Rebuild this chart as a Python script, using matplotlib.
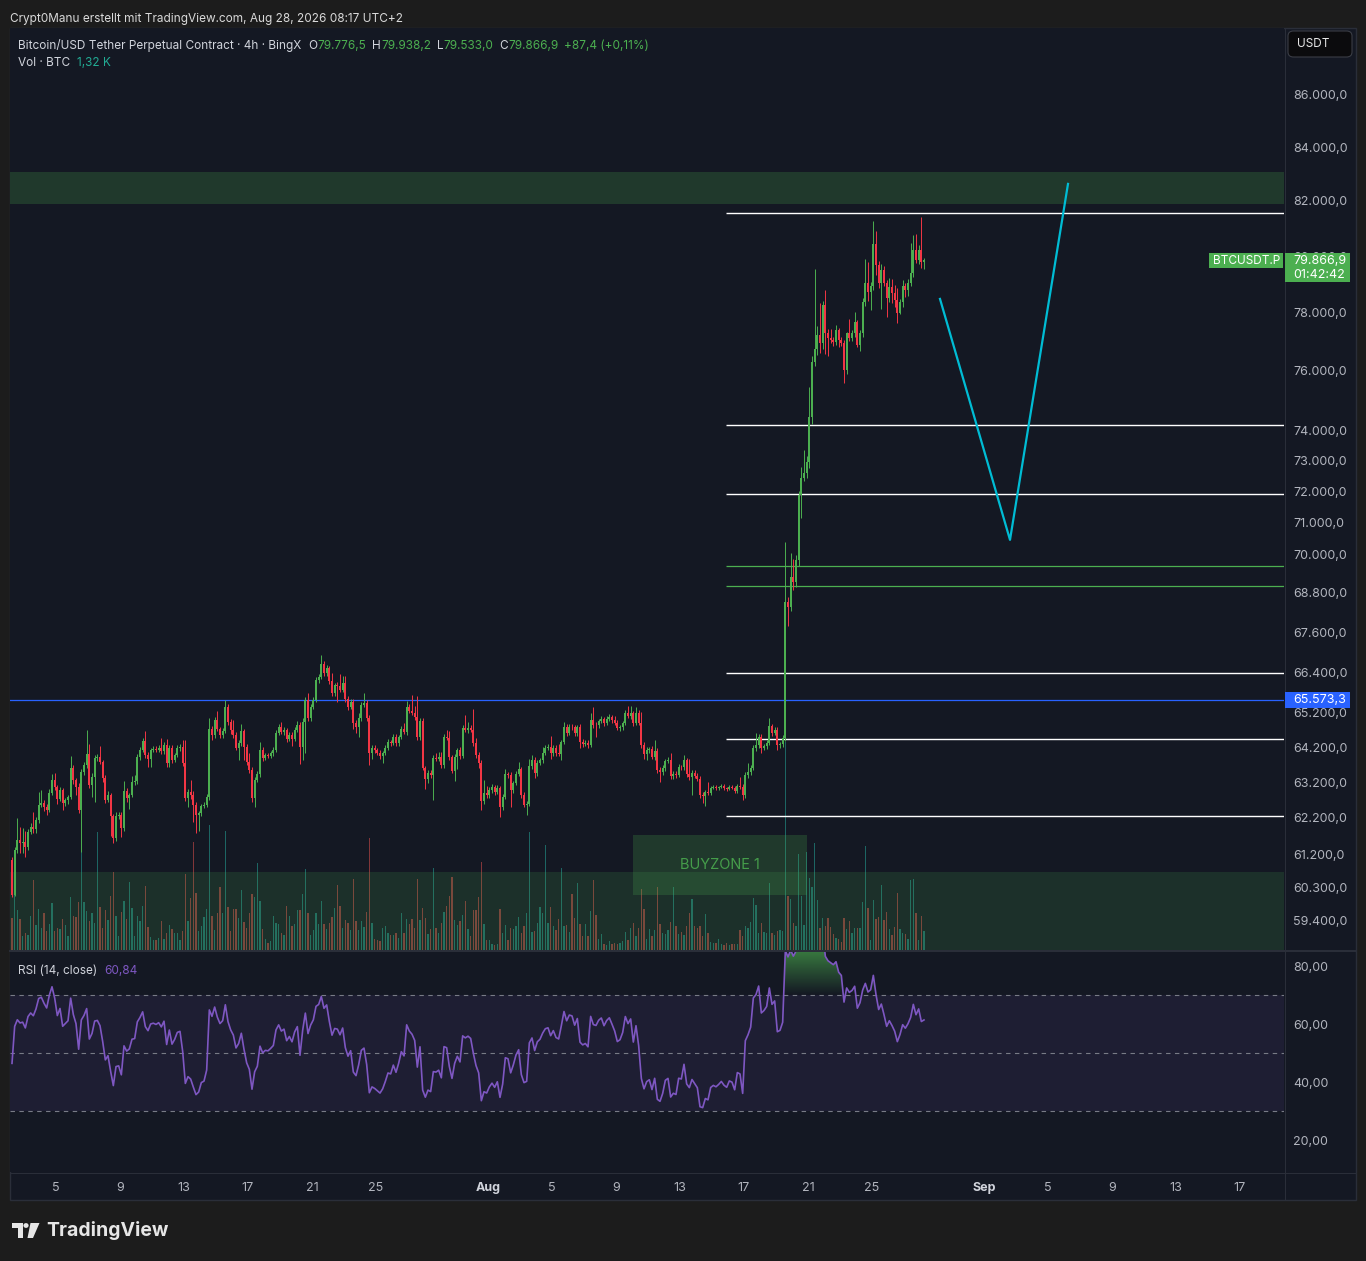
import matplotlib
matplotlib.use("Agg")
import matplotlib.pyplot as plt
from matplotlib.patches import Rectangle, FancyBboxPatch, Polygon, Circle
from matplotlib.lines import Line2D
from matplotlib.path import Path
from matplotlib.colors import LinearSegmentedColormap
from matplotlib.ticker import FixedLocator, FuncFormatter, NullLocator
from datetime import datetime
import numpy as np
import pandas as pd

plt.rcParams['font.family'] = ['Inter', 'DejaVu Sans']

# ---------------- data (BTCUSDT.P, 4h candles from Jul 2 06:00) ----------------
first_open = 61040
closes = [
    60090, 61310, 61590, 61505, 61535, 61395, 61810, 61950, 61890, 62140,
    62560, 62615, 62505, 62420, 62895, 63265, 63065, 62730, 62980, 62615,
    62700, 62785, 63605, 63265, 63065, 62420, 63490, 63690, 64005, 63125,
    63350, 63890, 63920, 63775, 63320, 62700, 62840, 62255, 61645, 62255,
    62280, 61920, 62955, 62755, 62840, 63210, 63235, 63920, 64120, 64380,
    63975, 63860, 64120, 64150, 64120, 64180, 64090, 64265, 63750, 64180,
    63835, 63975, 64180, 64210, 63750, 62755, 62925, 62840, 62560, 62280,
    62335, 62530, 62560, 62785, 64725, 64555, 64990, 64725, 64555, 64670,
    65370, 64930, 64700, 64555, 64180, 64325, 64670, 64210, 63775, 63550,
    62755, 63265, 63435, 64120, 63890, 63975, 63960, 64035, 64120, 64610,
    64785, 64640, 64700, 64440, 64555, 64440, 64700, 64845, 64210, 64930,
    65575, 65045, 65370, 65575, 66165, 66255, 66640, 66370, 66520, 66135,
    65780, 66015, 66000, 65865, 66075, 65600, 65370, 65515, 64900, 64785,
    65045, 65425, 65485, 65045, 64035, 64180, 64120, 64035, 63950, 64035,
    64180, 64350, 64325, 64495, 64325, 64495, 64725, 64640, 65370, 65250,
    65190, 65075, 64495, 64960, 63605, 63295, 63465, 63405, 63890, 63875,
    63920, 63690, 64495, 64465, 63920, 63520, 63920, 64120, 63950, 64755,
    64700, 64755, 64700, 64325, 63975, 63750, 62675, 62895, 62840, 62980,
    63065, 62925, 63040, 62505, 62785, 63435, 63405, 62980, 63180, 63435,
    63575, 62840, 62560, 62590, 63665, 63835, 63465, 63750, 63835, 64035,
    64180, 64210, 64035, 64180, 64035, 64005, 64350, 64785, 64610, 64785,
    64770, 64610, 64785, 64350, 64295, 64325, 64265, 64990, 64845, 64830,
    64960, 65015, 64900, 65015, 65075, 64990, 64900, 64755, 64785, 64900,
    65190, 65105, 65190, 64900, 65190, 64900, 64265, 64005, 64120, 64150,
    63920, 64090, 63550, 63490, 63605, 63805, 63835, 63380, 63435, 63405,
    63635, 63620, 63835, 63435, 63350, 63465, 63380, 63295, 62840, 62815,
    62925, 62895, 63040, 63065, 63040, 63065, 63095, 63040, 63010, 63065,
    63050, 62955, 63095, 63080, 62840, 63405, 63490, 63605, 64180, 64265,
    64495, 64180, 64235, 64325, 64815, 64610, 64700, 64265, 64295, 64465,
    68515, 68360, 69290, 69135, 69815, 71880, 72430, 72595, 72950, 74440,
    76295, 76740, 77220, 76945, 78265, 77290, 77120, 77050, 76980, 77395,
    77050, 76945, 76020, 77290, 77120, 77290, 77675, 76875, 77290, 78370,
    79045, 78725, 78935, 80435, 79685, 79045, 79505, 79045, 78515, 78900,
    78690, 78445, 77985, 78370, 78935, 78795, 79045, 79400, 80220, 79860,
    80220, 79779.5, 79866.9,
]
# wick length above / below the candle body (USD)
wick_hi = [
    80, 90, 600, 370, 370, 300, 90, 110, 420, 80,
    370, 370, 90, 80, 120, 170, 200, 60, 90, 70,
    70, 60, 340, 90, 60, 110, 90, 80, 690, 290,
    120, 80, 90, 310, 60, 80, 100, 70, 60, 120,
    90, 70, 280, 90, 60, 170, 170, 90, 100, 90,
    290, 90, 70, 80, 90, 80, 290, 100, 170, 90,
    80, 60, 90, 70, 200, 660, 90, 340, 100, 80,
    60, 70, 90, 80, 320, 90, 90, 260, 70, 80,
    200, 100, 90, 290, 80, 70, 200, 60, 80, 260,
    80, 90, 90, 230, 100, 60, 70, 60, 80, 90,
    80, 145, 70, 60, 80, 90, 70, 100, 90, 110,
    90, 205, 80, 100, 100, 100, 270, 90, 90, 60,
    240, 70, 90, 355, 210, 210, 80, 90, 100, 80,
    145, 90, 290, 100, 80, 70, 90, 60, 80, 70,
    90, 80, 70, 80, 90, 60, 80, 175, 175, 90,
    465, 200, 610, 90, 80, 70, 90, 80, 90, 145,
    145, 145, 80, 200, 200, 70, 90, 60, 80, 90,
    375, 180, 90, 610, 145, 90, 80, 365, 200, 90,
    80, 70, 90, 60, 80, 140, 70, 90, 60, 80,
    200, 60, 90, 80, 200, 145, 80, 90, 70, 170,
    90, 80, 310, 70, 90, 260, 60, 145, 90, 90,
    90, 80, 60, 90, 80, 70, 90, 200, 375, 80,
    70, 80, 60, 80, 90, 70, 115, 80, 60, 70,
    90, 200, 200, 70, 175, 80, 315, 80, 90, 70,
    90, 315, 80, 90, 80, 70, 90, 200, 90, 80,
    80, 60, 145, 70, 425, 80, 90, 90, 70, 80,
    70, 280, 60, 50, 60, 40, 60, 50, 40, 60,
    50, 40, 60, 255, 60, 90, 255, 80, 70, 345,
    90, 80, 70, 90, 235, 60, 80, 90, 70, 80,
    1865, 150, 747, 565, 170, 120, 360, 750, 200, 1000,
    200, 2800, 300, 1100, 150, 525, 150, 310, 120, 175,
    70, 120, 100, 40, 490, 100, 350, 60, 120, 150,
    850, 750, 150, 830, 470, 150, 200, 150, 120, 320,
    290, 280, 430, 100, 215, 120, 150, 1070, 540, 580,
    180, 1190, 71.3,
]
wick_lo = [
    60, 40, 70, 280, 280, 280, 90, 60, 100, 120,
    80, 60, 110, 150, 70, 60, 90, 130, 70, 200,
    90, 100, 60, 100, 230, 80, 1160, 70, 80, 90,
    340, 700, 80, 60, 110, 90, 60, 550, 140, 80,
    100, 250, 80, 120, 310, 60, 100, 70, 80, 60,
    70, 230, 230, 60, 70, 60, 80, 90, 120, 115,
    90, 70, 60, 80, 90, 80, 250, 100, 475, 500,
    450, 90, 60, 70, 90, 145, 80, 70, 100, 90,
    70, 90, 110, 90, 60, 345, 80, 370, 90, 100,
    120, 260, 70, 80, 90, 60, 70, 60, 80, 60,
    60, 70, 80, 90, 60, 200, 70, 60, 490, 370,
    900, 80, 90, 70, 60, 90, 70, 80, 90, 80,
    80, 90, 500, 70, 60, 80, 90, 70, 175, 175,
    290, 80, 70, 90, 350, 175, 80, 60, 90, 200,
    70, 60, 90, 70, 80, 90, 60, 70, 80, 60,
    70, 80, 90, 80, 60, 285, 115, 70, 715, 80,
    70, 90, 80, 60, 90, 60, 285, 340, 80, 70,
    60, 80, 70, 80, 90, 145, 250, 90, 70, 80,
    70, 90, 60, 280, 80, 70, 90, 470, 80, 70,
    60, 90, 70, 280, 60, 80, 145, 90, 60, 80,
    70, 60, 170, 80, 90, 60, 170, 60, 90, 70,
    60, 90, 80, 170, 80, 70, 90, 60, 80, 345,
    80, 60, 90, 70, 60, 80, 70, 60, 80, 90,
    60, 70, 80, 90, 60, 70, 80, 145, 175, 80,
    70, 80, 90, 285, 70, 80, 60, 80, 90, 70,
    60, 60, 70, 90, 80, 510, 60, 70, 80, 200,
    280, 60, 50, 40, 60, 50, 40, 60, 50, 40,
    40, 60, 50, 60, 145, 80, 70, 90, 60, 80,
    80, 145, 70, 80, 60, 90, 70, 145, 80, 90,
    90, 577, 120, 250, 150, 200, 735, 100, 150, 200,
    250, 150, 200, 340, 200, 730, 620, 100, 150, 120,
    240, 100, 440, 150, 120, 100, 120, 70, 210, 150,
    150, 320, 630, 150, 360, 180, 920, 120, 670, 150,
    350, 240, 350, 40, 170, 245, 210, 100, 150, 120,
    150, 200, 246.5,
]
volume_btc = [
    2240, 5810, 2800, 2170, 980, 1190, 1050, 2380, 4900, 1750,
    2870, 1540, 2590, 1330, 1820, 3290, 1330, 1540, 1470, 2170,
    1750, 980, 3710, 2380, 2310, 3360, 8960, 3360, 2730, 2030,
    2590, 1890, 8260, 3010, 1540, 2800, 2100, 3780, 5460, 2380,
    980, 2660, 3430, 2170, 4760, 2940, 980, 2380, 2030, 3080,
    4480, 1610, 910, 700, 700, 840, 2030, 770, 1190, 1750,
    1470, 1190, 1190, 700, 1330, 5320, 2030, 3640, 7560, 3990,
    1330, 1680, 2310, 2870, 8750, 2380, 1400, 2590, 4410, 2590,
    8330, 3010, 1330, 2870, 2870, 2240,
    4200, 1960, 1540, 2590, 3920, 3710, 6090, 3430, 1470, 770,
    490, 630, 2380, 1890, 1820, 1190, 1050, 3080, 2380, 1680,
    1820, 2800, 2800, 3920, 5670, 2590, 1050, 1400, 2590, 1820,
    3430, 1820, 1470, 1890, 2310, 2940, 4550, 3080, 1540, 2100,
    1890, 1400, 4970, 2030, 1400, 2030, 1610, 2660, 7840, 1890,
    770, 700, 630, 1540, 1680, 1190, 1050, 1050, 1190, 840,
    2590, 1190, 2170, 1820, 2170, 1540, 4970, 2100, 2940, 2240,
    1120, 1470, 5740, 1540, 1190, 1890, 2660, 3080, 3780, 5110,
    2100, 1750, 2030, 2450, 3430, 1470, 980, 2800, 2800, 3710,
    6160, 1820, 700, 700,
    420, 350, 420, 2870, 1190, 1750, 700, 1540, 1470, 1680,
    2310, 1190, 1680, 2590, 8260, 1260, 1330, 1890, 3010, 2590,
    7350, 1890, 3010, 1680, 1400, 2170, 5740, 1680, 1750, 1260,
    3920, 2240, 4690, 1820, 980, 1820, 980, 2730, 4900, 2450,
    770, 1120, 420, 350, 630, 420, 490, 420, 490, 630,
    1260, 700, 1540, 1890, 980, 1540, 4270, 2870, 770, 1470,
    980, 1400, 4410, 1820, 1190, 1120, 1400, 1960, 4410, 1680,
    1120, 1260, 1050, 1680, 2590, 3570, 1680, 1540, 1680, 980,
    2520, 1190, 560, 490, 490, 770, 420, 350, 490, 350,
    420, 420, 420, 1400, 980, 1680, 1540, 1960, 3640, 3150,
    1190,
    1890, 1260, 1190, 4690, 1190, 1050, 1330, 1400, 1330, 14560,
    3780, 3570, 1890, 1680, 6720, 3780, 1750, 6860, 5040, 4410,
    7490, 3500, 1540, 2240, 1680, 2240, 1610, 1120, 840, 770,
    560, 2240, 1470, 2030, 1190, 1540, 1540, 1540, 3360, 7280,
    2940, 700, 3500, 2170, 2310, 4550, 2100, 2660, 1470, 1050,
    1610, 3990, 1470, 1190, 1120, 770, 4900, 4970, 2590, 700,
    2380, 1320,
]
last_ohlc = [79776.5, 79938.2, 79533.0, 79866.9]
last_change = 87.4
countdown = '01:42:42'
# RSI warm-up (average gain / loss before the first visible candle) and the value shown in the legend
rsi_seed = [150, 100]
rsi_shown = 60.84

# drawings on the chart
top_zone = [81890, 83070]
bottom_zone = [55000, 60710]
buyzone_days = ['2026-08-10 01:30', '2026-08-20 22:30']
buyzone_prices = [60090, 61725]
level_start = '2026-08-15 21:00'
white_levels = [81560, 74170, 71910, 66370, 64440, 62250]
green_levels = [69630, 69010]
blue_level = 65573.3
path_times = ['2026-08-29 06:00', '2026-09-02 15:00', '2026-09-06 06:00']
path_prices = [78480, 70450, 82630]

price_ticks = [86000, 84000, 82000, 80000, 78000, 76000, 74000, 73000, 72000, 71000,
               70000, 68800, 67600, 66400, 65200, 64200, 63200, 62200, 61200, 60300, 59400]
rsi_ticks = [20, 40, 60, 80]
tick_dates = ['2026-07-05', '2026-07-09', '2026-07-13', '2026-07-17', '2026-07-21', '2026-07-25',
              '2026-08-01', '2026-08-05', '2026-08-09', '2026-08-13', '2026-08-17', '2026-08-21',
              '2026-08-25', '2026-09-01', '2026-09-05', '2026-09-09', '2026-09-13', '2026-09-17']
tick_labels = ['5', '9', '13', '17', '21', '25', 'Aug', '5', '9', '13', '17', '21', '25',
               'Sep', '5', '9', '13', '17']

# ---------------- helpers ----------------
W, H = 1366, 1261
BG = '#141823'
GRID = '#2a2e39'
TXT = '#b2b5be'
LBL = '#d1d4dc'
UP, DOWN = '#4caf50', '#f23645'
FS = 8.5
base = datetime(2026, 7, 1)


def day(s):
    return (pd.Timestamp(s) - pd.Timestamp(base)).total_seconds() / 86400


def fx(x):
    return x / W


def fy(y):
    return 1 - y / H


def fmt_de(v, dec):
    s = f"{v:,.{dec}f}"
    return s.replace(',', 'X').replace('.', ',').replace('X', '.')


n = len(closes)
assert len(wick_hi) == n and len(wick_lo) == n and len(volume_btc) == n
t = day('2026-07-02 06:00') + np.arange(n) / 6
c = np.array(closes, float)
o = np.concatenate([[first_open], c[:-1]])
top = np.maximum(o, c)
bot = np.minimum(o, c)
hi = top + np.array(wick_hi)
lo = bot - np.array(wick_lo)
up = c >= o
col = np.where(up, UP, DOWN)

# RSI (14), Wilder smoothing
ag, al = rsi_seed
rsi = []
prev_c = first_open
for v in c:
    d = v - prev_c
    ag = (ag * 13 + max(d, 0)) / 14
    al = (al * 13 + max(-d, 0)) / 14
    rsi.append(100 * ag / (ag + al))
    prev_c = v
rsi = np.array(rsi)

xlim = ((10 + 8) / 16, (1284 + 8) / 16)

fig = plt.figure(figsize=(W / 100, H / 100), dpi=100, facecolor='#1c1c1c')
fig.add_artist(Rectangle((fx(10), fy(1200)), 1346 / W, 1172 / H, transform=fig.transFigure,
                         fc=BG, ec=GRID, lw=1, zorder=-10))

ax_vol = fig.add_axes([fx(10), fy(950), 1274 / W, 922 / H], facecolor=BG)
ax = ax_vol.twinx()
ax_rsi = fig.add_axes([fx(10), fy(1172), 1274 / W, 220 / H], facecolor=BG, sharex=ax_vol)
for a in (ax_vol, ax, ax_rsi):
    for sp in a.spines.values():
        sp.set_visible(False)

# volume
vcol = [(0.15, 0.65, 0.60, 0.55) if u else (0.94, 0.33, 0.31, 0.5) for u in up]
ax_vol.bar(t, volume_btc, width=0.4 / 6, color=vcol, linewidth=0)
ax_vol.set_ylim(0, 922 * 70)
ax_vol.tick_params(left=False, labelleft=False, bottom=False, labelbottom=False)

# price pane
ax.set_yscale('log')
ax.set_xlim(*xlim)
ax.set_ylim(58625, 88608)
ax.axhspan(*top_zone, color=UP, alpha=0.22, lw=0, zorder=1)
ax.axhspan(*bottom_zone, color=UP, alpha=0.16, lw=0, zorder=1)
b0, b1 = day(buyzone_days[0]), day(buyzone_days[1])
ax.add_patch(Rectangle((b0, buyzone_prices[0]), b1 - b0, buyzone_prices[1] - buyzone_prices[0],
                       fc=UP, alpha=0.22, lw=0, zorder=1))
ax.text((b0 + b1) / 2, np.sqrt(buyzone_prices[0] * buyzone_prices[1]), 'BUYZONE 1',
        color=UP, alpha=0.85, fontsize=10.5, ha='center', va='center', zorder=2)
ls = day(level_start)
ax.hlines(white_levels, ls, xlim[1], colors='white', lw=1.0, zorder=2)
ax.hlines(green_levels, ls, xlim[1], colors=UP, lw=0.9, zorder=2)
ax.axhline(blue_level, color='#2962ff', lw=0.9, zorder=2)
ax.plot([day(s) for s in path_times], path_prices, color='#00bcd4', lw=1.6, zorder=3)

body_h = np.maximum(top - bot, 12)
ax.vlines(t, lo, hi, colors=col, lw=0.7, zorder=4)
ax.bar(t, body_h, bottom=bot, width=0.75 / 6, color=col, linewidth=0, zorder=5)

ax.yaxis.set_major_locator(FixedLocator(price_ticks))
ax.yaxis.set_minor_locator(NullLocator())
ax.yaxis.set_major_formatter(FuncFormatter(lambda v, p: fmt_de(v, 1)))
ax.yaxis.set_minor_formatter(FuncFormatter(lambda v, p: ''))
ax.tick_params(axis='y', length=0, pad=6.5, labelsize=9, labelcolor=TXT)

# RSI pane
ax_rsi.axhspan(30, 70, color='#7e57c2', alpha=0.1, lw=0)
for lvl in (70, 50, 30):
    ax_rsi.axhline(lvl, color='#787b86', lw=0.8, dashes=(4, 4))
ax_rsi.plot(t, rsi, color='#7e57c2', lw=1.2, zorder=4)
fb = ax_rsi.fill_between(t, 70, rsi, where=rsi > 70, interpolate=True, fc='none', ec='none')
paths = fb.get_paths()
if paths:
    grad = np.linspace(0, 1, 256).reshape(-1, 1)
    cmap = LinearSegmentedColormap.from_list('ob', [(0.30, 0.69, 0.31, 0.0), (0.30, 0.69, 0.31, 0.65)])
    im = ax_rsi.imshow(grad, extent=[xlim[0], xlim[1], 70, 85], origin='lower', aspect='auto',
                       cmap=cmap, zorder=3)
    im.set_clip_path(Path.make_compound_path(*paths), ax_rsi.transData)
ax_rsi.set_xlim(*xlim)
ax_rsi.set_ylim(8.97, 84.83)
ax_rsi.yaxis.tick_right()
ax_rsi.set_yticks(rsi_ticks)
ax_rsi.yaxis.set_major_formatter(FuncFormatter(lambda v, p: fmt_de(v, 2)))
ax_rsi.tick_params(axis='y', length=0, pad=6.5, labelsize=9, labelcolor=TXT)
ax_rsi.set_xticks([day(s) for s in tick_dates])
ax_rsi.set_xticklabels(tick_labels)
ax_rsi.tick_params(axis='x', length=0, pad=7.5, labelsize=9, labelcolor=TXT)
for lab in ax_rsi.get_xticklabels():
    if not lab.get_text().isdigit():
        lab.set_fontweight('bold')
        lab.set_color(LBL)

# separators
for xs, ys, lw in [((10, 1356), (951, 951), 2), ((10, 1356), (1172.5, 1172.5), 1),
                   ((1285, 1285), (28, 1200), 1)]:
    fig.add_artist(Line2D([fx(v) for v in xs], [fy(v) for v in ys], transform=fig.transFigure,
                          color=GRID, lw=lw * 0.72, zorder=5))

# ---------------- texts ----------------
fig.text(fx(10), fy(19), 'Crypt0Manu erstellt mit TradingView.com, Aug 28, 2026 08:17 UTC+2',
         color='#d9d9d9', fontsize=FS, va='center', ha='left')


def chain(prev, s, color, gap=0, host=ax):
    return host.annotate(s, xy=(1, 0.5), xycoords=prev, xytext=(gap * 0.72, 0),
                         textcoords='offset points', va='center', ha='left', fontsize=FS,
                         color=color, annotation_clip=False)


h0 = fig.text(fx(18), fy(46), 'Bitcoin/USD Tether Perpetual Contract · 4h · BingX', color=LBL,
              fontsize=FS, va='center', ha='left')
prev = h0
pct = last_change / closes[-2] * 100
for i, (letter, val) in enumerate(zip('OHLC', last_ohlc)):
    prev = chain(prev, letter, LBL, gap=7 if i == 0 else 6)
    prev = chain(prev, fmt_de(val, 1), UP)
chain(prev, f"+{fmt_de(last_change, 1)} (+{fmt_de(pct, 2)}%)", UP, gap=6)

v0 = fig.text(fx(18), fy(63), 'Vol · BTC', color=LBL, fontsize=FS, va='center', ha='left')
chain(v0, f"{fmt_de(volume_btc[-1] / 1000, 2)} K", '#22ab94', gap=7)

r0 = fig.text(fx(18), fy(971), 'RSI (14, close)', color=LBL, fontsize=FS, va='center', ha='left')
chain(r0, fmt_de(rsi_shown, 2), '#7e57c2', gap=7, host=ax_rsi)


# price tags on the right axis
def price_px(p):
    return H - ax.transData.transform((xlim[0], p))[1]


yc = price_px(last_ohlc[3])
fig.add_artist(Rectangle((fx(1285), fy(yc + 22)), 65 / W, 29 / H, transform=fig.transFigure,
                         fc=UP, ec='none', zorder=6))
fig.text(fx(1293), fy(yc + 1), fmt_de(last_ohlc[3], 1), color='white', fontsize=9, va='center', zorder=7)
fig.text(fx(1293), fy(yc + 15), countdown, color='white', fontsize=9, va='center', zorder=7)
fig.add_artist(Rectangle((fx(1209), fy(yc + 8.5)), 74 / W, 15 / H, transform=fig.transFigure,
                         fc=UP, ec='none', zorder=6))
fig.text(fx(1213), fy(yc + 1), 'BTCUSDT.P', color='white', fontsize=FS, va='center', zorder=7)

yb = price_px(blue_level)
fig.add_artist(Rectangle((fx(1285), fy(yb + 8)), 65 / W, 16 / H, transform=fig.transFigure,
                         fc='#2962ff', ec='none', zorder=6))
fig.text(fx(1293), fy(yb), fmt_de(blue_level, 1), color='white', fontsize=9, va='center', zorder=7)

fig.add_artist(FancyBboxPatch((fx(1288), fy(57)), 64 / W, 26 / H, transform=fig.transFigure,
                              boxstyle='round,pad=0,rounding_size=0.004', fc='#0b0b0d',
                              ec='#3a3d45', lw=0.8, zorder=6))
fig.text(fx(1297), fy(44), 'USDT', color='#e8e8e8', fontsize=FS, va='center', zorder=7)

# TradingView logo
LOGO = '#e6e6e6'
for pts in ([(12, 1223), (23, 1223), (23, 1228), (12, 1228)],
            [(17.5, 1223), (23, 1223), (23, 1238), (17.5, 1238)],
            [(30.5, 1223), (39.5, 1223), (33, 1238), (27.5, 1238)]):
    fig.add_artist(Polygon([(fx(a), fy(b)) for a, b in pts], closed=True,
                           transform=fig.transFigure, fc=LOGO, ec='none'))
fig.add_artist(Circle((fx(26), fy(1225.5)), 2.6 / W, transform=fig.transFigure, fc=LOGO, ec='none'))
fig.text(fx(46), fy(1230), 'TradingView', color=LOGO, fontsize=14, fontweight='bold',
         va='center', ha='left')

fig.savefig('out.png', dpi=100, facecolor=fig.get_facecolor())
